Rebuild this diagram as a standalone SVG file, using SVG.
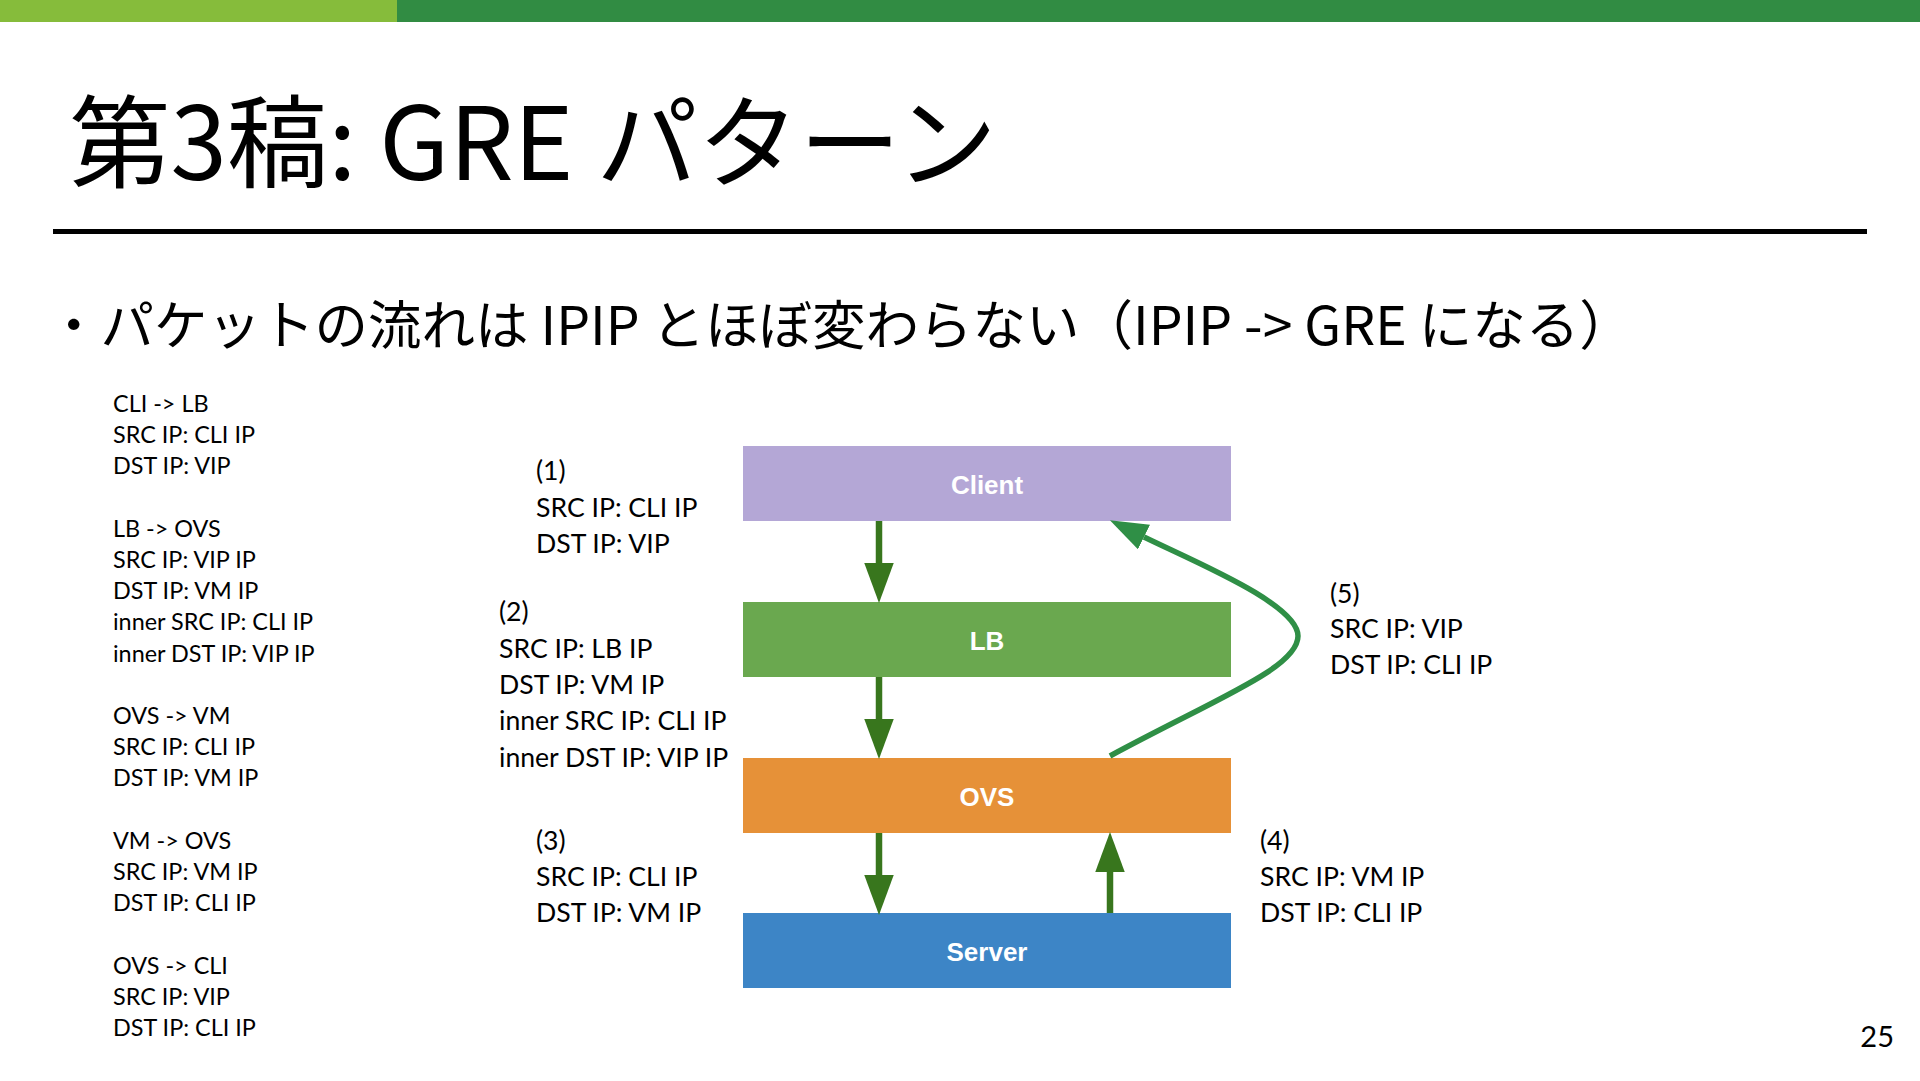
<svg xmlns="http://www.w3.org/2000/svg" width="1920" height="1081" viewBox="0 0 1920 1081">
<defs>
<style>
.title{font-family:"Noto Sans CJK JP","Noto Sans",sans-serif;font-size:101.5px;fill:#000}
.sub{font-family:"Noto Sans CJK JP","Noto Sans",sans-serif;font-size:53.5px;fill:#000}
.left{font-family:Lato,"Liberation Sans",sans-serif;font-size:23.4px;fill:#000}
.mid{font-family:Lato,"Liberation Sans",sans-serif;font-size:26.6px;fill:#000}
.box{font-family:"Liberation Sans",Arial,sans-serif;font-size:26px;font-weight:bold;fill:#fff;text-anchor:middle}
.conn{stroke:#38761d;stroke-width:6.5;fill:none}
.ret{stroke:#2f8f46;stroke-width:5.5;fill:none}
.pg{font-family:Lato,"Liberation Sans",sans-serif;font-size:29px;fill:#000;text-anchor:end}
</style>
<marker id="ah" markerUnits="userSpaceOnUse" markerWidth="40" markerHeight="30" viewBox="0 0 38 28" refX="0" refY="14" orient="auto">
<path d="M0,0 L38,14 L0,28 z" fill="#38761d"/>
</marker>
<marker id="ahr" markerUnits="userSpaceOnUse" markerWidth="38" markerHeight="28" viewBox="0 0 36 26" refX="0" refY="13" orient="auto">
<path d="M0,0 L36,13 L0,26 z" fill="#2f8f46"/>
</marker>
</defs>
<rect x="0" y="0" width="1920" height="1081" fill="#fff"/>
<rect x="0" y="0" width="398" height="22" fill="#86bc3b"/>
<rect x="397" y="0" width="1523" height="22" fill="#318c43"/>
<text class="title" x="69" y="180">第3稿: GRE パターン</text>
<rect x="53" y="229" width="1814" height="5" fill="#000"/>
<text class="sub" x="47" y="345">・パケットの流れは IPIP とほぼ変わらない（IPIP -&gt; GRE になる）</text>
<g id="packet-list" class="left">
<text x="113" y="412">CLI -&gt; LB</text>
<text x="113" y="443">SRC IP: CLI IP</text>
<text x="113" y="474">DST IP: VIP</text>
<text x="113" y="537">LB -&gt; OVS</text>
<text x="113" y="568">SRC IP: VIP IP</text>
<text x="113" y="599">DST IP: VM IP</text>
<text x="113" y="630">inner SRC IP: CLI IP</text>
<text x="113" y="662">inner DST IP: VIP IP</text>
<text x="113" y="724">OVS -&gt; VM</text>
<text x="113" y="755">SRC IP: CLI IP</text>
<text x="113" y="786">DST IP: VM IP</text>
<text x="113" y="849">VM -&gt; OVS</text>
<text x="113" y="880">SRC IP: VM IP</text>
<text x="113" y="911">DST IP: CLI IP</text>
<text x="113" y="974">OVS -&gt; CLI</text>
<text x="113" y="1005">SRC IP: VIP</text>
<text x="113" y="1036">DST IP: CLI IP</text>
</g>
<g id="client">
<rect x="743" y="446" width="488" height="75" fill="#b4a7d6"/>
<text class="box" x="987" y="494">Client</text>
</g>
<g id="lb">
<rect x="743" y="602" width="488" height="75" fill="#6aa84f"/>
<text class="box" x="987" y="650">LB</text>
</g>
<g id="ovs">
<rect x="743" y="758" width="488" height="75" fill="#e69138"/>
<text class="box" x="987" y="806">OVS</text>
</g>
<g id="server">
<rect x="743" y="913" width="488" height="75" fill="#3d85c6"/>
<text class="box" x="987" y="961">Server</text>
</g>
<g id="connectors">
<line class="conn" x1="879" y1="521" x2="879" y2="563" marker-end="url(#ah)"/>
<line class="conn" x1="879" y1="677" x2="879" y2="719" marker-end="url(#ah)"/>
<line class="conn" x1="879" y1="833" x2="879" y2="875" marker-end="url(#ah)"/>
<line class="conn" x1="1110" y1="913" x2="1110" y2="872" marker-end="url(#ah)"/>
<path class="ret" d="M1110,756 C1215,699 1298,668 1298,636 C1298,604 1195,562 1144,537" marker-end="url(#ahr)"/>
</g>
<g id="labels" class="mid">
<text x="536" y="480">(1)</text>
<text x="536" y="517">SRC IP: CLI IP</text>
<text x="536" y="553">DST IP: VIP</text>
<text x="499" y="621">(2)</text>
<text x="499" y="658">SRC IP: LB IP</text>
<text x="499" y="694">DST IP: VM IP</text>
<text x="499" y="730">inner SRC IP: CLI IP</text>
<text x="499" y="767">inner DST IP: VIP IP</text>
<text x="536" y="850">(3)</text>
<text x="536" y="886">SRC IP: CLI IP</text>
<text x="536" y="922">DST IP: VM IP</text>
<text x="1260" y="850">(4)</text>
<text x="1260" y="886">SRC IP: VM IP</text>
<text x="1260" y="922">DST IP: CLI IP</text>
<text x="1330" y="603">(5)</text>
<text x="1330" y="638">SRC IP: VIP</text>
<text x="1330" y="674">DST IP: CLI IP</text>
</g>
<text class="pg" x="1894" y="1047">25</text>
</svg>
